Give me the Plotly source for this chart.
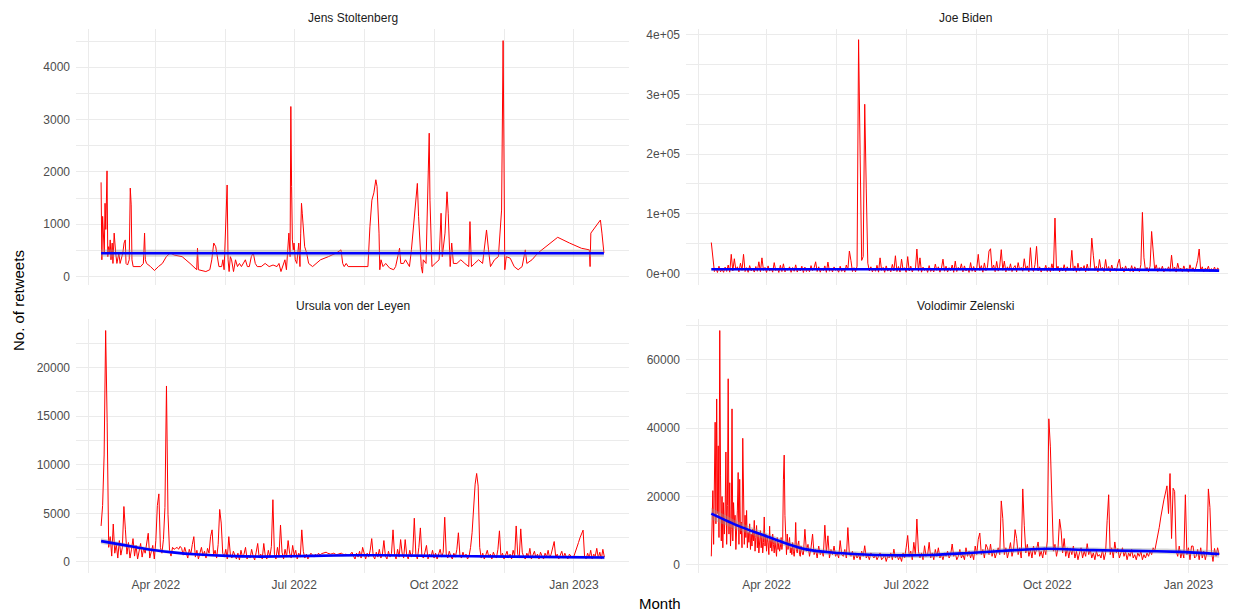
import pandas as pd
import plotly.graph_objects as go

# ---------------- data ----------------
START = "2022-02-24"          # day 0 of every series
N_DAYS = 332                  # daily series cover day 0 .. 331

stoltenberg_days = [
    0, 0.5, 1.0, 1.6, 2.1, 2.6, 3.1, 3.9, 4.4, 4.9,
    5.5, 6.0, 6.5, 7.3, 7.8, 8.6, 9.1, 9.6, 10.4, 11.2,
    11.7, 12.5, 13.3, 14.3, 15.1, 15.9, 16.4, 17.4, 18.5, 19.2,
    19.8, 20.3, 21.1, 23.4, 26.0, 27.8, 28.6, 29.1, 29.9, 32.5,
    35.1, 37.7, 40.3, 42.9, 45.5, 48.1, 53.3, 58.5, 62.9, 63.4,
    64.0, 68.9, 71.5, 72.8, 74.1, 75.4, 76.7, 77.5, 79.3, 80.1,
    80.9, 81.9, 82.4, 82.9, 83.5, 84.2, 85.0, 85.8, 87.1, 88.4,
    89.7, 91.0, 92.3, 94.9, 96.2, 97.5, 98.8, 100.1, 101.4, 102.7,
    105.3, 107.9, 110.5, 113.1, 115.7, 117.0, 118.3, 119.6, 120.9, 121.9,
    122.7, 123.5, 124.3, 124.8, 125.3, 125.8, 126.4, 126.9, 127.7, 128.7,
    130.0, 130.8, 131.3, 131.8, 132.3, 133.1, 133.9, 135.2, 136.5, 139.1,
    144.3, 149.5, 154.7, 157.8, 158.9, 159.9, 161.2, 162.5, 167.7, 175.5,
    176.8, 178.1, 179.4, 180.7, 181.5, 182.8, 183.3, 184.1, 185.4, 187.2,
    189.8, 192.4, 193.7, 196.3, 197.1, 198.9, 200.2, 202.8, 204.1, 205.4,
    206.7, 208.0, 208.8, 210.6, 211.4, 211.9, 213.7, 215.0, 215.8, 216.3,
    217.1, 217.6, 219.7, 222.3, 223.6, 224.4, 226.2, 227.5, 228.3, 229.6,
    230.6, 231.7, 234.0, 236.6, 239.2, 241.8, 242.6, 243.6, 245.7, 248.3,
    250.9, 253.5, 254.8, 256.1, 258.7, 261.3, 263.4, 263.9, 264.4, 264.9,
    265.5, 266.5, 269.1, 271.7, 274.3, 276.9, 279.0, 280.0, 283.4, 287.3,
    292.5, 300.3, 308.1, 315.9, 321.1, 321.6, 322.1, 325.0, 328.4, 329.4,
    330.7,
]
stoltenberg_rt = [
    1800, 320, 1150, 830, 450, 1400, 900, 2020, 380, 570,
    450, 700, 320, 640, 250, 830, 570, 450, 250, 380,
    450, 250, 320, 450, 640, 700, 250, 220, 320, 1690,
    1370, 320, 190, 190, 190, 250, 830, 320, 250, 190,
    115, 190, 250, 380, 450, 410, 380, 250, 130, 540,
    130, 95, 130, 320, 640, 570, 380, 190, 190, 320,
    130, 830, 1460, 1750, 320, 95, 380, 320, 95, 320,
    190, 250, 190, 320, 190, 190, 380, 450, 250, 190,
    190, 250, 190, 220, 190, 250, 95, 190, 320, 130,
    510, 830, 380, 3250, 1720, 700, 510, 640, 320, 250,
    640, 190, 830, 1400, 1210, 830, 570, 450, 250, 190,
    320, 380, 450, 510, 250, 190, 250, 190, 190, 190,
    950, 1460, 1600, 1850, 1720, 830, 130, 320, 190, 250,
    160, 130, 190, 540, 250, 250, 320, 190, 510, 950,
    1460, 1780, 1150, 190, 65, 320, 250, 2100, 2740, 1460,
    830, 190, 250, 320, 1210, 380, 830, 1620, 1210, 190,
    640, 250, 250, 320, 250, 190, 1050, 190, 250, 320,
    250, 890, 510, 190, 320, 380, 1270, 3380, 4510, 2610,
    130, 380, 350, 190, 130, 190, 510, 250, 320, 450,
    570, 750, 640, 540, 510, 190, 830, 950, 1080, 830,
    450,
]

biden_rt = [
    51700, 28100, 3000, 9000, 1500, 12000, 2500, 7000, 1800, 10500,
    3200, 14000, 2000, 31900, 4000, 24500, 6000, 11000, 2500, 17000,
    5000, 31900, 3000, 9500, 1800, 13000, 4200, 8000, 2200, 11500,
    3500, 19400, 2800, 26000, 5000, 10000, 1600, 12500, 3800, 8500,
    2000, 18000, 4500, 9000, 1500, 13500, 3000, 16000, 2400, 7500,
    5200, 11000, 1800, 9800, 3500, 14300, 2200, 8200, 4000, 12000,
    1500, 10500, 3000, 7800, 2600, 13000, 4800, 9200, 19400, 3000,
    11000, 2000, 8800, 4500, 12500, 1700, 18900, 3500, 9000, 2400,
    10800, 5000, 7200, 1900, 12000, 3300, 8500, 2100, 14000, 6000,
    37400, 21700, 3000, 9500, 2500, 12000, 391600, 199300, 21700, 28100,
    283400, 141500, 17000, 4000, 11000, 2500, 9000, 3500, 13500, 2000,
    26000, 5000, 10000, 1800, 12500, 3800, 8000, 2600, 15000, 4200,
    29500, 3000, 11500, 2200, 23800, 5500, 9500, 1900, 28100, 4000,
    12000, 2500, 8800, 6000, 40800, 3500, 26000, 2000, 10500, 4800,
    9000, 1700, 13000, 3200, 7500, 2400, 15500, 5000, 11000, 2000,
    8500, 23800, 3600, 12000, 2200, 9500, 4500, 14000, 1800, 20500,
    3000, 10000, 5500, 16000, 2500, 12500, 4000, 9000, 1600, 18000,
    3500, 11500, 2300, 8500, 31900, 5000, 13000, 2000, 17500, 4500,
    10500, 37400, 41300, 6000, 14000, 2800, 20000, 3800, 12000, 39700,
    5200, 20500, 2500, 11000, 4800, 16000, 3000, 9500, 13000, 2400,
    18000, 5500, 10000, 3500, 24500, 6000, 12500, 2600, 43000, 8000,
    3200, 15000, 45200, 4000, 11000, 2200, 9000, 5000, 13500, 3000,
    10000, 2800, 16000, 4500, 92700, 6000, 12000, 2500, 9500, 4000,
    14500, 3000, 11000, 5500, 8000, 38600, 4200, 12500, 2000, 17000,
    3800, 10500, 6000, 13000, 2500, 15500, 4500, 9500, 59000, 30500,
    5000, 12000, 2400, 23200, 6500, 10000, 3000, 23200, 4800, 11500,
    2600, 14000, 5200, 9000, 3500, 16500, 23800, 4000, 10500, 2200,
    12500, 5000, 8500, 3200, 13000, 2400, 11000, 6000, 9000, 3000,
    14500, 102200, 26000, 4500, 10000, 2800, 12000, 70200, 34000, 5500,
    14300, 3000, 9500, 4200, 12000, 2500, 8000, 5000, 11000, 3500,
    30500, 4800, 10500, 2200, 17000, 6000, 9000, 3000, 12500, 4500,
    8500, 2000, 14300, 5000, 9500, 3500, 11000, 21700, 40800, 4000,
    11000, 2500, 9000, 5500, 12000, 3000, 8000, 4500, 10500, 2800,
    9000, 6500,
]

vdl_rt = [
    3700, 5800, 11000, 23800, 14300, 1500, 2600, 600, 3900, 900,
    1800, 400, 2200, 700, 1500, 5700, 3300, 800, 2000, 400,
    1300, 2400, 600, 1700, 300, 1100, 1900, 500, 1400, 900,
    2000, 2950, 400, 1200, 1700, 300, 2200, 5800, 7000, 1500,
    900, 2300, 5600, 18100, 4900, 1200, 600, 1500, 1300, 1400,
    1500, 1300, 1600, 1400, 700, 1500, 900, 400, 1300, 800,
    1800, 2600, 500, 1200, 300, 900, 1500, 600, 1100, 400,
    1400, 900, 2600, 3300, 700, 1200, 400, 1800, 5400, 4000,
    900, 500, 1300, 300, 2600, 800, 400, 1100, 600, 300,
    900, 200, 1200, 500, 800, 1500, 300, 700, 400, 1300,
    600, 200, 1000, 1900, 400, 800, 300, 1900, 600, 300,
    1200, 500, 1600, 6400, 800, 300, 1500, 600, 3800, 1000,
    300, 1300, 500, 2200, 900, 400, 1700, 700, 1200, 300,
    900, 500, 3300, 1100, 400, 800, 300, 600, 900, 700,
    500, 800, 600, 900, 700, 850, 900, 950, 1000, 900,
    850, 800, 850, 900, 800, 750, 800, 850, 900, 800,
    750, 800, 700, 650, 800, 1000, 600, 300, 900, 500,
    1100, 400, 1500, 800, 300, 900, 500, 1200, 2400, 600,
    300, 1000, 500, 1300, 400, 800, 2200, 600, 300, 1100,
    500, 900, 3300, 800, 300, 1300, 500, 2300, 900, 400,
    2300, 700, 300, 1200, 500, 1000, 4500, 800, 300, 1500,
    3500, 600, 400, 1000, 1700, 300, 800, 500, 1200, 400,
    900, 300, 700, 1300, 500, 1000, 4600, 800, 400, 1100,
    600, 300, 900, 500, 1300, 3000, 700, 400, 1000, 500,
    800, 300, 600, 1500, 3000, 5500, 8000, 9100, 7800, 1500,
    400, 900, 300, 700, 1200, 500, 800, 300, 1000, 600,
    400, 1300, 3200, 500, 900, 300, 700, 1100, 400, 800,
    300, 1200, 600, 3700, 800, 400, 3400, 1000, 500, 300,
    900, 500, 1400, 300, 700, 1100, 400, 800, 300, 1000,
    600, 300, 900, 500, 1200, 400, 800, 1600, 2100, 500,
    800, 300, 700, 1100, 400, 900, 500, 300, 800, 600,
    400, 600, 1000, 1500, 2000, 2500, 3000, 3270, 500, 300,
    900, 400, 1200, 300, 800, 600, 1400, 400, 1000, 300,
    1300, 500,
]

# Zelensky: two readings per day for days 0-59 (dense period), then one per day
zelensky_early_rt = [
    2500, 9000, 21700, 6000, 18000, 41700, 12000, 48500, 15000, 34800,
    8000, 68500, 26000, 7000, 20000, 5000, 18200, 9000, 14500, 33000,
    6000, 17300, 54400, 9000, 24000, 5500, 10400, 45600, 7000, 18200,
    12000, 14500, 4500, 8600, 16000, 27000, 6000, 25000, 9000, 12500,
    5000, 37000, 10400, 6000, 14500, 8000, 15900, 5000, 9500, 6600,
    12000, 4500, 9000, 5500, 10500, 7000, 13000, 4000, 8000, 11500,
    5000, 9500, 3500, 7500, 10000, 5000, 8500, 3500, 6500, 14000,
    5500, 9000, 4000, 8000, 6500, 3000, 11300, 5000, 7500, 4000,
    9000, 6000, 3500, 7000, 5000, 2500, 8000, 4500, 6500, 4000,
    5000, 8000, 4500, 6500, 25000, 32100, 14500, 5000, 3000, 9000,
    4500, 6000, 8000, 3500, 5000, 3000, 6500, 4000, 2500, 5000,
    12400, 4500, 3500, 6000, 7000, 3000, 2500, 5500, 4000, 3000,
]
zelensky_late_rt = [   # day 60 .. 331
    3000, 10400, 4000, 6000, 2500, 5000, 9000, 3000, 4500, 2000,
    5500, 3000, 4000, 2500, 11600, 3500, 8500, 2000, 4500, 3000,
    5500, 2500, 3500, 2000, 7100, 3000, 2500, 4500, 2000, 10900,
    3000, 2500, 4000, 1500, 3500, 2000, 3000, 1500, 4000, 2500,
    5600, 2000, 3000, 1500, 3500, 2500, 2000, 3000, 1500, 2500,
    3500, 1500, 2000, 3000, 1000, 2500, 2000, 3500, 1500, 4600,
    2000, 3000, 1500, 2500, 1000, 3500, 2000, 5000, 8600, 2500,
    4000, 1500, 6600, 3000, 13400, 4000, 2000, 3500, 1500, 5600,
    2500, 3000, 6600, 2000, 3500, 1500, 4500, 2500, 5000, 2000,
    3000, 1500, 3500, 2500, 4000, 2000, 3000, 6100, 2500, 3500,
    1500, 2500, 4500, 2000, 3000, 1500, 5000, 2500, 4000, 2000,
    3500, 1500, 5500, 3000, 7500, 9300, 3000, 4500, 2000, 6000,
    5000, 3000, 6100, 2500, 4500, 2000, 3500, 5000, 3000, 18700,
    13500, 3000, 5000, 2000, 4000, 6500, 2500, 4500, 10300, 7700,
    3000, 5000, 2000, 22200, 11600, 3500, 6000, 2500, 4500, 2000,
    5500, 3000, 4500, 6700, 2500, 4000, 2000, 5000, 3000, 7000,
    42700, 34500, 18700, 4000, 6000, 2500, 5000, 13400, 10000, 3500,
    7700, 2500, 5000, 2000, 4800, 3000, 5500, 2000, 4000, 1500,
    3500, 5000, 2000, 4000, 2500, 6200, 3000, 4500, 2000, 3500,
    1500, 4000, 2500, 3000, 2000, 4500, 1500, 3500, 12900, 20500,
    3000, 5000, 2000, 6700, 3500, 4800, 2000, 3500, 5000, 2500,
    4000, 1500, 3500, 2500, 4500, 2000, 3000, 1500, 3500, 2500,
    4000, 1500, 3000, 2000, 3500, 2500, 4000, 3000, 5000, 4000,
    6000, 8500, 11000, 14000, 17000, 19000, 21000, 23100, 15000, 26700,
    7700, 22400, 21500, 4000, 2500, 5500, 2000, 4000, 2000, 20500,
    3000, 5000, 1500, 5500, 5500, 2000, 2500, 4500, 1500, 5000,
    2000, 4000, 1500, 3500, 22200, 16800, 4000, 1000, 4800, 2500,
    5000, 3000,
]

# smoothed trend (fit) and its standard-error half width, read at anchor days
st_smooth_days = [0, 110, 220, 330.7]
st_smooth_fit = [446, 446, 446, 446]
st_smooth_se = [70, 65, 65, 70]

bd_smooth_days = [0, 50, 100, 150, 200, 250, 290, 331]
bd_smooth_fit = [6800, 6900, 7000, 6900, 6800, 6400, 5800, 4600]
bd_smooth_se = [1800, 1500, 1500, 1500, 1500, 1500, 1500, 1800]

vdl_smooth_days = [0, 18, 35.5, 48.6, 61.7, 83.5, 105.4, 140, 166.5, 182, 218, 270, 331]
vdl_smooth_fit = [2140, 1650, 1200, 960, 790, 620, 550, 620, 690, 690, 620, 550, 450]
vdl_smooth_se = [300, 220, 170, 150, 140, 130, 120, 120, 130, 130, 120, 120, 180]

ze_smooth_days = [0, 17.6, 35, 50.2, 61, 78.5, 95.9, 117.6, 143.7, 165.4, 197.7, 218.3, 249, 274.9, 305.7, 331]
ze_smooth_fit = [15000, 11400, 8500, 6050, 4600, 3600, 3100, 2800, 2900, 3400, 4300, 4700, 4300, 4100, 3800, 3200]
ze_smooth_se = [1700, 1200, 1000, 900, 850, 800, 800, 800, 800, 800, 800, 850, 800, 800, 850, 1100]

panel_titles = ["Jens Stoltenberg", "Joe Biden", "Ursula von der Leyen", "Volodimir Zelenski"]
x_tick_dates = ["2022-04-01", "2022-07-01", "2022-10-01", "2023-01-01"]
x_tick_labels = ["Apr 2022", "Jul 2022", "Oct 2022", "Jan 2023"]
x_minor_dates = ["2022-02-15 12:00", "2022-05-16 12:00", "2022-08-16", "2022-11-16 12:00"]

st_ticks = [0, 1000, 2000, 3000, 4000]
st_minor = [500, 1500, 2500, 3500, 4500]
bd_ticks = [0, 100000, 200000, 300000, 400000]
bd_tick_labels = ["0e+00", "1e+05", "2e+05", "3e+05", "4e+05"]
bd_minor = [50000, 150000, 250000, 350000]
vdl_ticks = [0, 5000, 10000, 15000, 20000, 25000]
vdl_minor = [2500, 7500, 12500, 17500, 22500]
ze_ticks = [0, 20000, 40000, 60000]
ze_minor = [10000, 30000, 50000, 70000]

# ---------------- helpers ----------------
start = pd.Timestamp(START)


def to_dates(days):
    return list(start + pd.to_timedelta(pd.Series(days, dtype=float), unit="D"))


daily_days = list(range(N_DAYS))
zelensky_days = [i / 2 for i in range(len(zelensky_early_rt))] + list(range(60, N_DAYS))
zelensky_rt = zelensky_early_rt + zelensky_late_rt

# the page body has an 8px margin: the figure is sized to fit the window
OFF = 8
W, H = 1236 - OFF, 613 - OFF
FONT = "Liberation Sans, Arial, sans-serif"
TICK_FONT = dict(family=FONT, size=12, color="#4D4D4D")
GRID = "#EBEBEB"


def fx(px):           # window x pixel -> paper fraction
    return min(max((px - OFF) / W, 0.0), 1.0)


def fy(py):           # window y pixel (from top) -> paper fraction
    return min(max(1 - (py - OFF) / H, 0.0), 1.0)


fig = go.Figure()

panels = [
    ("x", "y", stoltenberg_days, stoltenberg_rt, st_smooth_days, st_smooth_fit, st_smooth_se),
    ("x2", "y2", daily_days, biden_rt, bd_smooth_days, bd_smooth_fit, bd_smooth_se),
    ("x3", "y3", daily_days, vdl_rt, vdl_smooth_days, vdl_smooth_fit, vdl_smooth_se),
    ("x4", "y4", zelensky_days, zelensky_rt, ze_smooth_days, ze_smooth_fit, ze_smooth_se),
]

for xa, ya, days, vals, sd, sf, se in panels:
    fig.add_trace(go.Scatter(
        x=to_dates(days), y=vals, mode="lines",
        line=dict(color="#FF0000", width=1),
        xaxis=xa, yaxis=ya, showlegend=False, hoverinfo="skip"))
    sdates = to_dates(sd)
    upper = [f + e for f, e in zip(sf, se)]
    lower = [f - e for f, e in zip(sf, se)]
    fig.add_trace(go.Scatter(
        x=sdates, y=lower, mode="lines",
        line=dict(width=0, color="rgba(0,0,0,0)", shape="spline", smoothing=0.6),
        xaxis=xa, yaxis=ya, showlegend=False, hoverinfo="skip"))
    fig.add_trace(go.Scatter(
        x=sdates, y=upper, mode="lines", fill="tonexty",
        fillcolor="rgba(153,153,153,0.4)",
        line=dict(width=0, color="rgba(0,0,0,0)", shape="spline", smoothing=0.6),
        xaxis=xa, yaxis=ya, showlegend=False, hoverinfo="skip"))
    fig.add_trace(go.Scatter(
        x=sdates, y=sf, mode="lines",
        line=dict(color="#0000FF", width=2.6, shape="spline", smoothing=0.6),
        xaxis=xa, yaxis=ya, showlegend=False, hoverinfo="skip"))

# panel geometry (window pixels)
left_px = (76, 629)
right_px = (686, 1236)
top_px = (29, 285)      # top, bottom (from top of window)
bot_px = (319, 573)


def xdom(p):
    return [fx(p[0]), fx(p[1])]


def ydom(p):
    return [fy(p[1]), fy(p[0])]


x_range_left = [start - pd.Timedelta(days=16.5), start + pd.Timedelta(days=330.7 + 16.5)]
# the right column is cut by the window edge before its full expansion
x_range_right = [start - pd.Timedelta(days=16.5), start + pd.Timedelta(days=342)]


def xaxis(dom, anchor, labels, rng):
    return dict(
        domain=dom, anchor=anchor, type="date", range=rng, automargin=False,
        tickmode="array", tickvals=x_tick_dates, ticktext=x_tick_labels,
        showticklabels=labels, tickfont=TICK_FONT, ticks="",
        showgrid=True, gridcolor=GRID, gridwidth=1.1,
        minor=dict(tickmode="array", tickvals=x_minor_dates, showgrid=True,
                   gridcolor=GRID, gridwidth=0.6, ticks=""),
        zeroline=False, showline=False, ticklabelstandoff=3)


def yaxis(dom, anchor, rng, ticks, minor, labels=None):
    return dict(
        domain=dom, anchor=anchor, range=rng, automargin=False,
        tickmode="array", tickvals=ticks,
        ticktext=labels if labels else [str(t) for t in ticks],
        tickfont=TICK_FONT, ticks="",
        showgrid=True, gridcolor=GRID, gridwidth=1.1,
        minor=dict(tickmode="array", tickvals=minor, showgrid=True,
                   gridcolor=GRID, gridwidth=0.6, ticks=""),
        zeroline=False, showline=False, ticklabelstandoff=5)


fig.update_layout(
    width=W, height=H,
    margin=dict(l=0, r=0, t=0, b=0, autoexpand=False),
    paper_bgcolor="white", plot_bgcolor="white",
    font=dict(family=FONT),
    xaxis=xaxis(xdom(left_px), "y", False, x_range_left),
    xaxis2=xaxis(xdom(right_px), "y2", False, x_range_right),
    xaxis3=xaxis(xdom(left_px), "y3", True, x_range_left),
    xaxis4=xaxis(xdom(right_px), "y4", True, x_range_right),
    yaxis=yaxis(ydom(top_px), "x", [-162, 4732], st_ticks, st_minor),
    yaxis2=yaxis(ydom(top_px), "x2", [-19500, 409500], bd_ticks, bd_minor, bd_tick_labels),
    yaxis3=yaxis(ydom(bot_px), "x3", [-1138, 24988], vdl_ticks, vdl_minor),
    yaxis4=yaxis(ydom(bot_px), "x4", [-2375, 71875], ze_ticks, ze_minor),
)

# strip titles
strip_pos = [(left_px, 18), ((686, 1244), 18), (left_px, 306), ((686, 1244), 306)]
for title, (px, py) in zip(panel_titles, strip_pos):
    fig.add_annotation(
        text=title, xref="paper", yref="paper",
        x=fx((px[0] + px[1]) / 2), y=fy(py),
        xanchor="center", yanchor="middle", showarrow=False,
        font=dict(family=FONT, size=12, color="#1A1A1A"))

fig.add_annotation(
    text="Month", xref="paper", yref="paper", x=fx(660), y=fy(603),
    xanchor="center", yanchor="middle", showarrow=False,
    font=dict(family=FONT, size=15, color="black"))
fig.add_annotation(
    text="No. of retweets", xref="paper", yref="paper", x=fx(18), y=fy(301),
    xanchor="center", yanchor="middle", textangle=-90, showarrow=False,
    font=dict(family=FONT, size=15, color="black"))

fig.write_html("out.html")
